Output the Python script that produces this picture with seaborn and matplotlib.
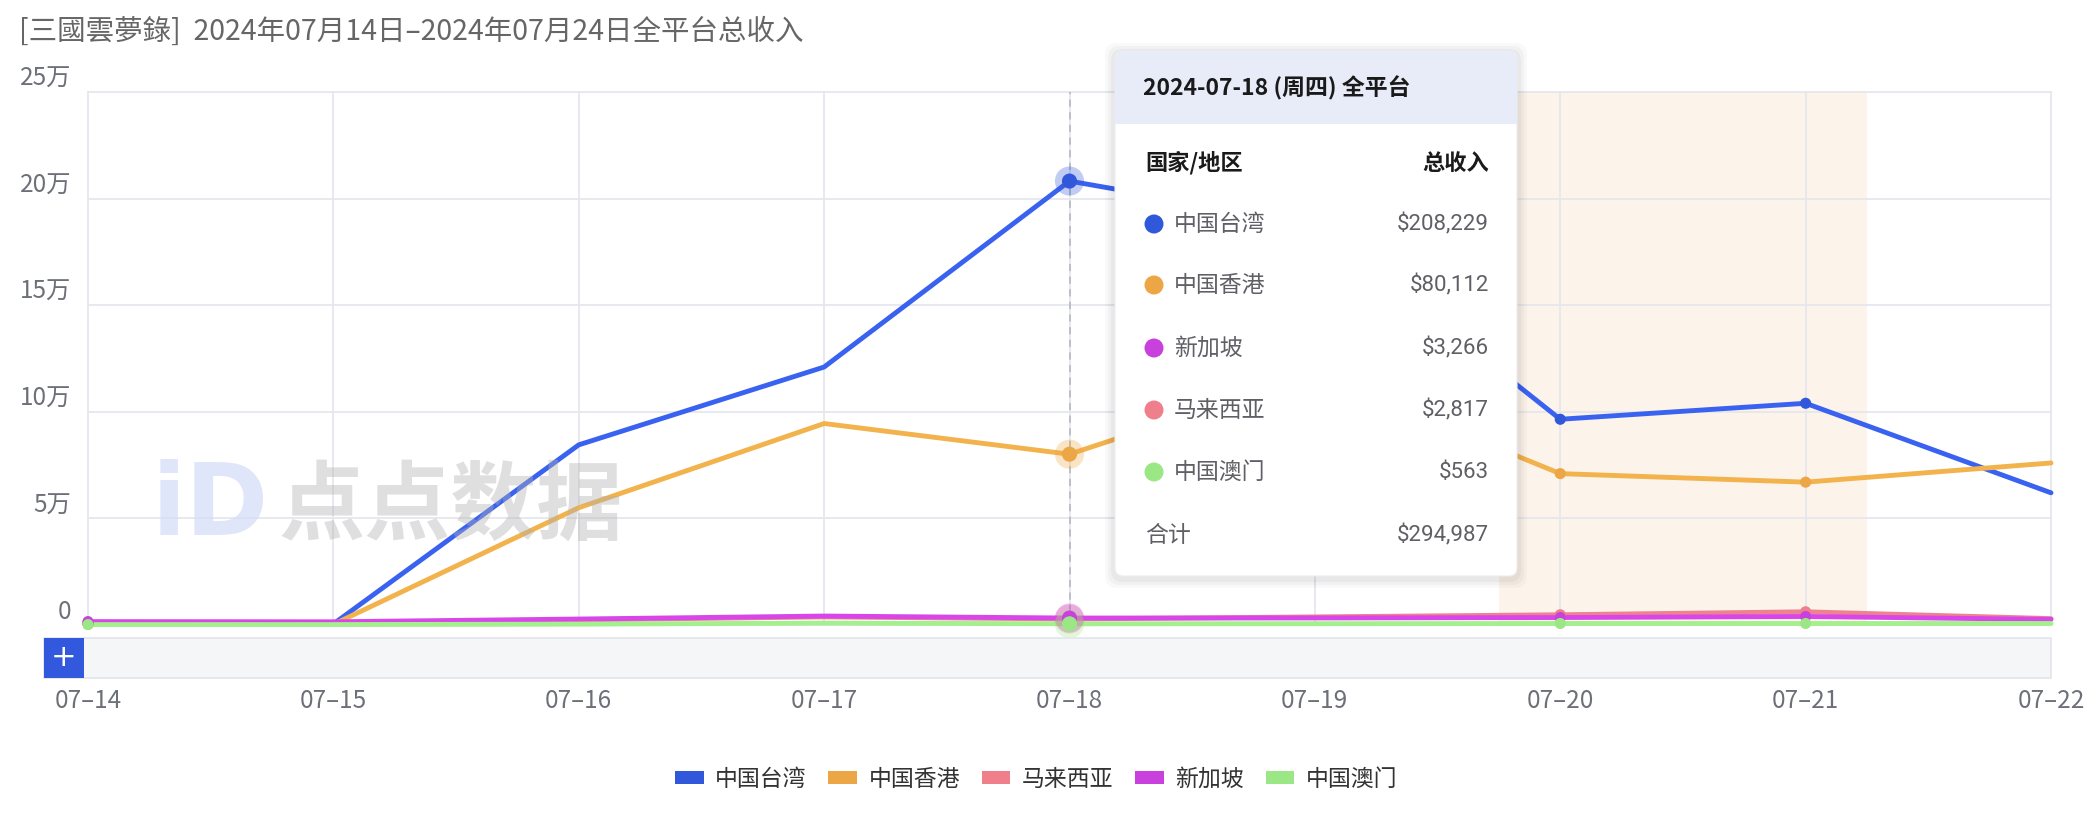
import numpy as np
import pandas as pd
import matplotlib.pyplot as plt
import seaborn as sns
from matplotlib.patches import FancyBboxPatch, Rectangle, Circle, Patch

# Data (daily revenue, USD)
dates = ['07-14', '07-15', '07-16', '07-17', '07-18', '07-19', '07-20', '07-21', '07-22']
regions = ['中国台湾', '中国香港', '马来西亚', '新加坡', '中国澳门']
taiwan = [700, 500, 84500, 121000, 208229, 188000, 96500, 104000, 62000]
hongkong = [300, 300, 55000, 94500, 80112, 118000, 71000, 67000, 76000]
malaysia = [900, 800, 2400, 3800, 2817, 3800, 4800, 6200, 3000]
singapore = [1600, 1500, 2800, 4200, 3266, 3300, 3500, 4000, 2600]
macau = [200, 200, 400, 900, 563, 600, 700, 700, 700]
ytick_vals = [0, 50000, 100000, 150000, 200000, 250000]
ytick_labels = ['0', '5万', '10万', '15万', '20万', '25万']

title = '[三國雲夢錄]  2024年07月14日–2024年07月24日全平台总收入'
hover_date = '07-18'
hover_header = '2024-07-18 (周四) 全平台'
weekend = ['07-20', '07-21']
marker_dates = ['07-14', '07-20', '07-21']

line_colors = {'中国台湾': '#3a62f0', '中国香港': '#f2b24c', '马来西亚': '#ee828f',
               '新加坡': '#d846ea', '中国澳门': '#a4ef8e'}
dot_colors = {'中国台湾': '#3157da', '中国香港': '#eca645', '马来西亚': '#ee7f8b',
              '新加坡': '#c941dc', '中国澳门': '#9be685'}

series = dict(zip(regions, [taiwan, hongkong, malaysia, singapore, macau]))
df = pd.DataFrame([(d, i, r, v[i]) for r, v in series.items() for i, d in enumerate(dates)],
                  columns=['date', 'pos', 'region', 'value'])

W, H = 2092, 824
sns.set_theme(style='white')
plt.rcParams['font.family'] = ['Noto Sans CJK SC', 'DejaVu Sans']

fig = plt.figure(figsize=(W / 100, H / 100), dpi=100)
ax = fig.add_axes([88 / W, 1 - 625 / H, (2051 - 88) / W, (625 - 92) / H])

# weekend shading
w0 = dates.index(weekend[0]) - 0.25
w1 = dates.index(weekend[-1]) + 0.25
ax.axvspan(w0, w1, color='#fcf3ea', zorder=0, lw=0)

# grid
for y in ytick_vals:
    ax.axhline(y, color='#e6e7ed', lw=1.3, zorder=0.5)
for i in range(len(dates)):
    ax.axvline(i, color='#e6e7ed', lw=1.3, zorder=0.5)

sns.lineplot(data=df, x='pos', y='value', hue='region', hue_order=regions,
             palette=line_colors, lw=3.5, legend=False, ax=ax, zorder=3)

mk = df[df['date'].isin(marker_dates)]
sns.scatterplot(data=mk, x='pos', y='value', hue='region', hue_order=regions,
                palette=dot_colors, s=64, edgecolor='none', legend=False, ax=ax, zorder=4)

# hover crosshair + highlighted points
hx = dates.index(hover_date)
ax.axvline(hx, color='#b9bcc6', lw=1.3, ls=(0, (4, 3)), zorder=3.5)
hv = df[df['date'] == hover_date]
sns.scatterplot(data=hv, x='pos', y='value', hue='region', hue_order=regions,
                palette=dot_colors, s=440, alpha=0.3, edgecolor='none', legend=False, ax=ax, zorder=5)
sns.scatterplot(data=hv, x='pos', y='value', hue='region', hue_order=regions,
                palette=dot_colors, s=118, edgecolor='none', legend=False, ax=ax, zorder=6)

for a in list(ax.lines) + list(ax.collections):
    a.set_clip_on(False)

# watermark
ax.text(0.5, 55000, 'iD', fontsize=72, fontweight='bold', color='#d3dcf9', alpha=0.7,
        ha='center', va='center', zorder=7, family=['DejaVu Sans'])
ax.text(1.48, 55000, '点点数据', fontsize=62, fontweight='bold', color='#b0b0b0', alpha=0.4,
        ha='center', va='center', zorder=7)

ax.set_xlim(0, len(dates) - 1)
ax.set_ylim(0, 250000)
ax.set_xticks(range(len(dates)))
ax.set_xticklabels([d.replace('-', '–') for d in dates])
ax.set_yticks(ytick_vals)
ax.set_yticklabels(ytick_labels, va='bottom')
ax.tick_params(axis='x', length=0, pad=45, labelsize=17.5, labelcolor='#6e7079')
ax.tick_params(axis='y', length=0, pad=12, labelsize=17.5, labelcolor='#6e7079')
ax.set_xlabel('')
ax.set_ylabel('')
for s in ax.spines.values():
    s.set_visible(False)
ax.patch.set_alpha(0)

fig.text(19 / W, 1 - 32 / H, title, fontsize=20.5, color='#666666', va='center', ha='left')

# legend
handles = [Patch(facecolor=dot_colors[r], edgecolor='none', label=r) for r in regions]
fig.legend(handles=handles, loc='center', bbox_to_anchor=(1036 / W, 1 - 779 / H), ncol=5,
           frameon=False, fontsize=16.5, handlelength=1.25, handleheight=0.5,
           handletextpad=0.5, columnspacing=0.95, labelcolor='#333333')

# overlay in pixel coordinates: data-zoom bar and tooltip
ov = fig.add_axes([0, 0, 1, 1], zorder=10)
ov.set_xlim(0, W)
ov.set_ylim(H, 0)
ov.axis('off')
ov.patch.set_alpha(0)

ov.add_patch(Rectangle((44, 638), 2051 - 44, 40, facecolor='#f5f6f8', edgecolor='#e3e5ea', lw=1.2))
ov.add_patch(Rectangle((44, 638), 40, 40, facecolor='#3158dd', edgecolor='none'))
ov.text(64, 658, '+', color='white', fontsize=22, ha='center', va='center', family=['DejaVu Sans'])

tx, ty, tw, th = 1115, 51, 402, 525
for k, al in enumerate([0.035, 0.03, 0.025]):
    ov.add_patch(FancyBboxPatch((tx - 4 - 3 * k, ty - 2 - 3 * k), tw + 8 + 6 * k, th + 8 + 6 * k,
                                boxstyle='round,pad=0,rounding_size=12', facecolor='black',
                                edgecolor='none', alpha=al))
box = FancyBboxPatch((tx, ty), tw, th, boxstyle='round,pad=0,rounding_size=8',
                     facecolor='white', edgecolor='#ececf0', lw=0.8)
ov.add_patch(box)
hdr = Rectangle((tx, ty), tw, 73, facecolor='#e7ecf8', edgecolor='none')
ov.add_patch(hdr)
hdr.set_clip_path(box)

ov.text(1143, 88, hover_header, fontsize=16.5, fontweight='bold', color='#1a1a1a', va='center')
ov.text(1145, 163, '国家/地区', fontsize=16, fontweight='bold', color='#1a1a1a', va='center')
ov.text(1489, 163, '总收入', fontsize=16, fontweight='bold', color='#1a1a1a', va='center', ha='right')

hov = hv.sort_values('value', ascending=False)
row_y = [224, 285, 348, 410, 472]
for y, (_, row) in zip(row_y, hov.iterrows()):
    ov.add_patch(Circle((1154, y), 9.5, facecolor=dot_colors[row['region']], edgecolor='none'))
    ov.text(1174, y, row['region'], fontsize=16.5, color='#5f5f66', va='center')
    ov.text(1489, y, f"${row['value']:,}", fontsize=16, color='#5f5f66', va='center', ha='right',
            family=['Roboto', 'DejaVu Sans'])
ov.text(1145, 535, '合计', fontsize=16.5, color='#5f5f66', va='center')
ov.text(1489, 535, f"${hv['value'].sum():,}", fontsize=16, color='#5f5f66', va='center', ha='right',
        family=['Roboto', 'DejaVu Sans'])

fig.savefig('out.png', dpi=100, facecolor='white')
